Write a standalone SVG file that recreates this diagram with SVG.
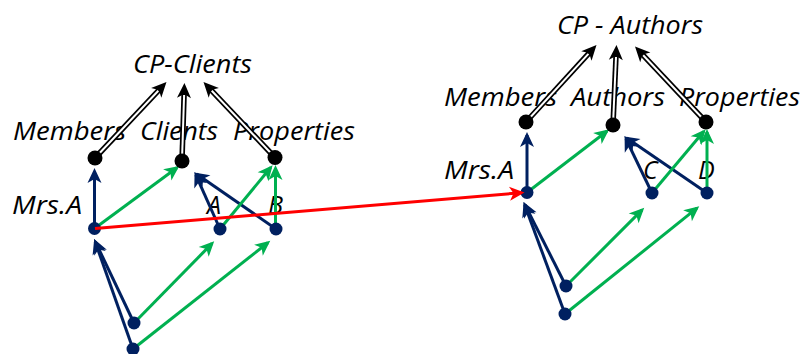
<svg xmlns="http://www.w3.org/2000/svg" width="803" height="354" viewBox="0 0 803 354">
  <style>
    .lbl { font-family: "Open Sans", "Liberation Sans", sans-serif; font-style: italic; font-size: 25px; fill: #000; }
    .blue { stroke: #002060; stroke-width: 3; fill: none; marker-end: url(#hBlue); }
    .green { stroke: #00B050; stroke-width: 3; fill: none; marker-end: url(#hGreen); }
    .red { stroke: #FF0000; stroke-width: 3; fill: none; marker-end: url(#hRed); }
    .dbl-out { stroke: #000; stroke-width: 5.5; fill: none; marker-end: url(#hBlack); }
    .dbl-in { stroke: #fff; stroke-width: 2; fill: none; }
    .set { fill: #000; }
    .elem { fill: #002060; }
  </style>
  <defs>
    <marker id="hBlue" markerUnits="userSpaceOnUse" markerWidth="16" markerHeight="14" refX="12" refY="7" orient="auto" overflow="visible">
      <path d="M0,0 L15,7 L0,14 L4,7 Z" fill="#002060"/>
    </marker>
    <marker id="hGreen" markerUnits="userSpaceOnUse" markerWidth="16" markerHeight="14" refX="12" refY="7" orient="auto" overflow="visible">
      <path d="M0,0 L15,7 L0,14 L4,7 Z" fill="#00B050"/>
    </marker>
    <marker id="hRed" markerUnits="userSpaceOnUse" markerWidth="16" markerHeight="14" refX="12" refY="7" orient="auto" overflow="visible">
      <path d="M0,0 L15,7 L0,14 L4,7 Z" fill="#FF0000"/>
    </marker>
    <marker id="hBlack" markerUnits="userSpaceOnUse" markerWidth="16" markerHeight="14" refX="7" refY="7" orient="auto" overflow="visible">
      <path d="M0,0 L15,7 L0,14 L4,7 Z" fill="#000"/>
    </marker>
  </defs>

  <!-- labels -->
  <g id="labels">
    <text class="lbl" x="133" y="73" font-size="26" textLength="119" lengthAdjust="spacingAndGlyphs">CP-Clients</text>
    <text class="lbl" x="13" y="140" textLength="113" lengthAdjust="spacingAndGlyphs">Members</text>
    <text class="lbl" x="140" y="140" textLength="78" lengthAdjust="spacingAndGlyphs">Clients</text>
    <text class="lbl" x="233" y="140" textLength="122" lengthAdjust="spacingAndGlyphs">Properties</text>
    <text class="lbl" x="12" y="214" textLength="70" lengthAdjust="spacingAndGlyphs">Mrs.A</text>
    <text class="lbl" x="207" y="214">A</text>
    <text class="lbl" x="268" y="214">B</text>

    <text class="lbl" x="557" y="34" font-size="26" textLength="146" lengthAdjust="spacingAndGlyphs">CP - Authors</text>
    <text class="lbl" x="444" y="106" textLength="113" lengthAdjust="spacingAndGlyphs">Members</text>
    <text class="lbl" x="571" y="106" textLength="94" lengthAdjust="spacingAndGlyphs">Authors</text>
    <text class="lbl" x="679" y="106" textLength="121" lengthAdjust="spacingAndGlyphs">Properties</text>
    <text class="lbl" x="444" y="179" textLength="70" lengthAdjust="spacingAndGlyphs">Mrs.A</text>
    <text class="lbl" x="643" y="179">C</text>
    <text class="lbl" x="698" y="179">D</text>
  </g>

  <!-- connectors -->
  <g id="connectors">
    <!-- CP-Clients: sets to composite -->
    <line class="dbl-out" x1="95" y1="158" x2="161" y2="87.8"/>
    <line class="dbl-in" x1="95" y1="158" x2="158.3" y2="90.7"/>
    <line class="dbl-out" x1="182" y1="161" x2="184.2" y2="91"/>
    <line class="dbl-in" x1="182" y1="161" x2="184.1" y2="95"/>
    <line class="dbl-out" x1="275" y1="157.5" x2="209" y2="87.8"/>
    <line class="dbl-in" x1="275" y1="157.5" x2="211.75" y2="90.7"/>

    <!-- CP-Clients: membership -->
    <line class="blue" x1="94.5" y1="228.5" x2="94.5" y2="171"/>
    <line class="blue" x1="220" y1="229" x2="195.8" y2="174.8"/>
    <line class="blue" x1="276" y1="229" x2="196.6" y2="174.1"/>
    <line class="blue" x1="134" y1="323" x2="95.4" y2="241.8"/>
    <line class="blue" x1="133" y1="349" x2="95.2" y2="241.9"/>

    <line class="green" x1="94.5" y1="228.5" x2="176.9" y2="167.7"/>
    <line class="green" x1="220" y1="229" x2="270.7" y2="167.5"/>
    <line class="green" x1="275.5" y1="229" x2="275.5" y2="168"/>
    <line class="green" x1="134" y1="323" x2="212.1" y2="243.4"/>
    <line class="green" x1="133" y1="349" x2="267.9" y2="242.7"/>

    <!-- CP-Authors: sets to composite -->
    <line class="dbl-out" x1="526" y1="122" x2="591.1" y2="50.9"/>
    <line class="dbl-in" x1="526" y1="122" x2="588.4" y2="53.9"/>
    <line class="dbl-out" x1="613" y1="125" x2="616.15" y2="53"/>
    <line class="dbl-in" x1="613" y1="125" x2="616" y2="57"/>
    <line class="dbl-out" x1="706" y1="122" x2="640.5" y2="52.3"/>
    <line class="dbl-in" x1="706" y1="122" x2="643.2" y2="55.3"/>

    <!-- CP-Authors: membership -->
    <line class="blue" x1="527" y1="192.5" x2="527" y2="135"/>
    <line class="blue" x1="652" y1="193" x2="625.9" y2="138.8"/>
    <line class="blue" x1="707" y1="193" x2="626.7" y2="138.1"/>
    <line class="blue" x1="566" y1="286" x2="524.9" y2="204.8"/>
    <line class="blue" x1="565" y1="314" x2="524.7" y2="204.9"/>

    <line class="green" x1="527" y1="192.5" x2="606.9" y2="131.2"/>
    <line class="green" x1="652" y1="193" x2="703.7" y2="131.5"/>
    <line class="green" x1="707" y1="193" x2="707" y2="132"/>
    <line class="green" x1="566" y1="286" x2="642.1" y2="209.9"/>
    <line class="green" x1="565" y1="314" x2="696.9" y2="208.2"/>
  </g>

  <!-- nodes: CP-Clients -->
  <g id="members-1"><circle class="set" cx="95" cy="158" r="7.5"/></g>
  <g id="clients-1"><circle class="set" cx="182" cy="161" r="7.5"/></g>
  <g id="properties-1"><circle class="set" cx="275" cy="157.5" r="7.5"/></g>
  <g id="mrsa-1"><circle class="elem" cx="94.5" cy="228.5" r="6.5"/></g>
  <g id="a-1"><circle class="elem" cx="220" cy="229" r="6.5"/></g>
  <g id="b-1"><circle class="elem" cx="276" cy="229" r="6.5"/></g>
  <g id="p1-1"><circle class="elem" cx="134" cy="323" r="6.5"/></g>
  <g id="p2-1"><circle class="elem" cx="133" cy="349" r="6.5"/></g>

  <!-- nodes: CP-Authors -->
  <g id="members-2"><circle class="set" cx="526" cy="122" r="7.5"/></g>
  <g id="authors-2"><circle class="set" cx="613" cy="125" r="7.5"/></g>
  <g id="properties-2"><circle class="set" cx="706" cy="122" r="7.5"/></g>
  <g id="mrsa-2"><circle class="elem" cx="527" cy="192.5" r="6.5"/></g>
  <g id="c-2"><circle class="elem" cx="652" cy="193" r="6.5"/></g>
  <g id="d-2"><circle class="elem" cx="707" cy="193" r="6.5"/></g>
  <g id="p1-2"><circle class="elem" cx="566" cy="286" r="6.5"/></g>
  <g id="p2-2"><circle class="elem" cx="565" cy="314" r="6.5"/></g>

  <!-- cross-composite link -->
  <g id="link">
    <line class="red" x1="95" y1="228.5" x2="521.5" y2="192.7"/>
  </g>
</svg>
